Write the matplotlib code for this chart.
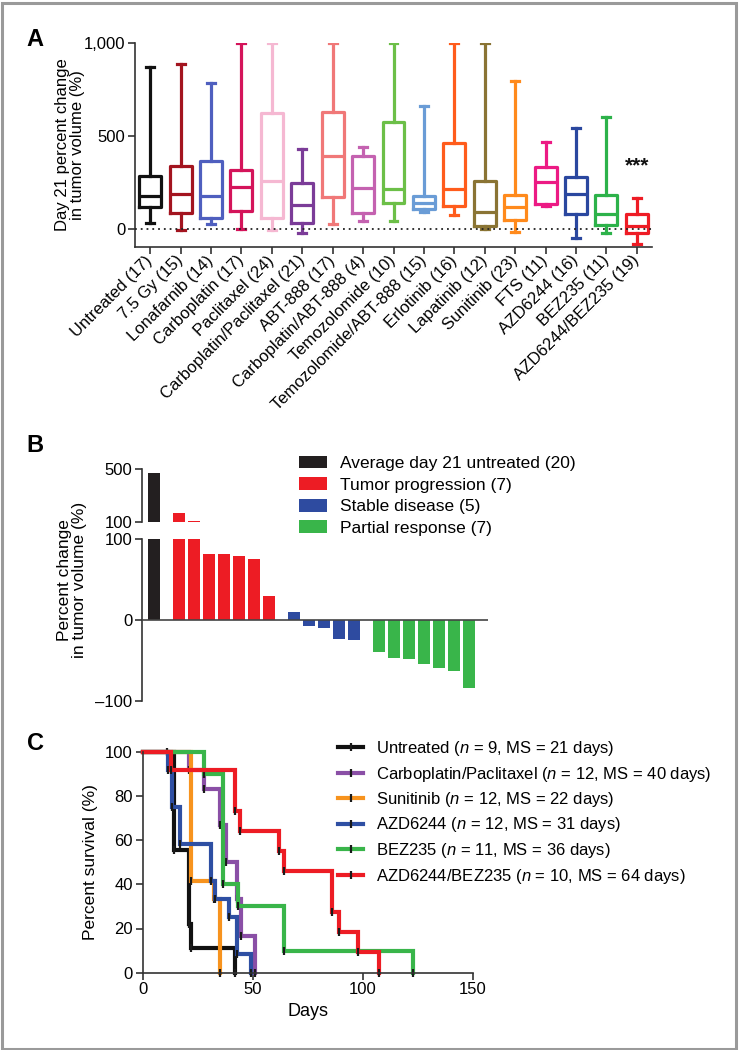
import numpy as np
import matplotlib
matplotlib.use("Agg")
import matplotlib.pyplot as plt
from matplotlib.patches import Patch, Rectangle
from matplotlib.lines import Line2D

plt.rcParams['font.family'] = ['Liberation Sans', 'DejaVu Sans']
plt.rcParams['mathtext.fontset'] = 'custom'
plt.rcParams['mathtext.it'] = 'Liberation Sans:italic'
plt.rcParams['mathtext.rm'] = 'Liberation Sans'

# ---------------- Panel A data ----------------
a_labels = ["Untreated (17)", "7.5 Gy (15)", "Lonafarnib (14)", "Carboplatin (17)",
            "Paclitaxel (24)", "Carboplatin/Paclitaxel (21)", "ABT-888 (17)",
            "Carboplatin/ABT-888 (4)", "Temozolomide (10)", "Temozolomide/ABT-888 (15)",
            "Erlotinib (16)", "Lapatinib (12)", "Sunitinib (23)", "FTS (11)",
            "AZD6244 (16)", "BEZ235 (11)", "AZD6244/BEZ235 (19)"]
a_whislo = [34, -5, 25, 0, -5, -23, 29, 43, 43, 93, 75, -2, -16, 124, -47, -23, -83]
a_q1 = [118, 84, 61, 95, 61, 34, 171, 84, 142, 108, 126, 18, 50, 135, 79, 20, -23]
a_med = [178, 190, 178, 228, 260, 129, 393, 219, 215, 140, 214, 92, 117, 251, 187, 81, 18]
a_q3 = [284, 338, 366, 318, 625, 246, 630, 390, 575, 176, 461, 259, 183, 332, 278, 183, 81]
a_whishi = [869, 885, 785, 1000, 1000, 431, 1000, 442, 1000, 662, 1000, 1000, 794, 469, 544, 600, 165]
a_colors = ["#111111", "#a3141f", "#4f5fbf", "#d4145a", "#f5b8d2", "#7b3c98", "#f07878",
            "#c462b0", "#6cbf48", "#6a9cd6", "#ff5c1c", "#8a7434", "#ff8a1c", "#ec1a84",
            "#2a479f", "#2db24a", "#ee1c25"]
a_yticks = [0, 500, 1000]
a_yticklabels = ["0", "500", "1,000"]

# ---------------- Panel B data ----------------
b_groups = ["Average day 21 untreated (20)", "Tumor progression (7)",
            "Stable disease (5)", "Partial response (7)"]
b_colors = ["#231f20", "#ed1c24", "#2e4ba0", "#39b54a"]
b_untreated = [470]
b_progression = [173, 110, 81, 81, 79, 75, 30]
b_stable = [9.5, -7, -9.5, -23.5, -25]
b_partial = [-40, -46.5, -48, -54, -59, -63, -83.5]

# ---------------- Panel C data ----------------
c_labels = ["Untreated ($n$ = 9, MS = 21 days)",
            "Carboplatin/Paclitaxel ($n$ = 12, MS = 40 days)",
            "Sunitinib ($n$ = 12, MS = 22 days)",
            "AZD6244 ($n$ = 12, MS = 31 days)",
            "BEZ235 ($n$ = 11, MS = 36 days)",
            "AZD6244/BEZ235 ($n$ = 10, MS = 64 days)"]
c_colors = ["#111111", "#8a4fa6", "#f7931e", "#2e4fa3", "#39b54a", "#ed1c24"]
c_times = [
    [11, 14, 21, 22, 42],
    [21, 28, 35, 38, 43, 44.5, 51],
    [22, 32.5, 35],
    [11.7, 13.2, 17, 31, 33, 39, 43, 49],
    [28, 36.5, 43.5, 64, 123],
    [13, 42, 44, 62, 64, 86, 89, 98, 107.5],
]
c_surv = [
    [100, 55.6, 22.2, 11.1, 0],
    [91.7, 83.3, 66.7, 50, 33.3, 16.7, 0],
    [41.7, 33.3, 0],
    [91.7, 75, 58.3, 41.7, 33.3, 25, 8.3, 0],
    [90, 40, 30, 10, 0],
    [91.7, 73.3, 64.2, 55, 45.8, 27.5, 18.3, 9.2, 0],
]

W, H = 739, 1050
fig = plt.figure(figsize=(W / 100, H / 100), dpi=100)


def rect(l, t, r, b):
    return [l / W, 1 - b / H, (r - l) / W, (b - t) / H]


spine_c = "#333333"
FS_TICK = 12
FS_LAB = 12.5
FS_LEG = 12.5


def style_axes(ax):
    for s in ["top", "right"]:
        ax.spines[s].set_visible(False)
    for s in ["left", "bottom"]:
        ax.spines[s].set_color(spine_c)
        ax.spines[s].set_linewidth(1.2)
    ax.tick_params(direction="out", length=5, width=1.2, color=spine_c,
                   labelsize=FS_TICK, pad=2)


# ---------------- Panel A ----------------
axA = fig.add_axes(rect(135, 43, 652, 247))
style_axes(axA)
stats = []
for i in range(len(a_labels)):
    stats.append(dict(whislo=a_whislo[i], q1=a_q1[i], med=a_med[i], q3=a_q3[i],
                      whishi=a_whishi[i], label=a_labels[i]))
pos = np.arange(len(a_labels))
art = axA.bxp(stats, positions=pos, widths=0.72, capwidths=0.26, showfliers=False,
              patch_artist=False)
for i, c in enumerate(a_colors):
    for key in ["boxes", "medians"]:
        art[key][i].set_color(c)
        art[key][i].set_linewidth(2.3)
    for key in ["whiskers", "caps"]:
        for j in (2 * i, 2 * i + 1):
            art[key][j].set_color(c)
            art[key][j].set_linewidth(2.3)
axA.axhline(0, color="#222222", lw=1.3, ls=(0, (1, 2.2)), zorder=5)
axA.set_xlim(-0.5, len(a_labels) - 0.5)
axA.set_ylim(-97, 1000)
axA.set_yticks(a_yticks)
axA.set_yticklabels(a_yticklabels)
axA.set_xticks(pos)
axA.set_xticklabels(a_labels, rotation=45, ha="right", va="center",
                    rotation_mode="anchor", fontsize=FS_TICK)
axA.tick_params(axis="x", pad=3)
axA.text(16, 341, "***", ha="center", va="center", fontsize=15, fontweight="bold",
         color="#111111")
fig.text(70 / W, 1 - 145 / H, "Day 21 percent change\nin tumor volume (%)",
         rotation=90, ha="center", va="center", fontsize=12, linespacing=1.0)
fig.text(35 / W, 1 - 40 / H, "A", fontsize=17, fontweight="bold", ha="center", va="center")

# ---------------- Panel B ----------------
b_values = [b_untreated, b_progression, b_stable, b_partial]
b_pos = []
b_val = []
b_col = []
x = 0.0
for g, vals in enumerate(b_values):
    if g > 0:
        x += 0.667
    for v in vals:
        b_pos.append(x)
        b_val.append(v)
        b_col.append(b_colors[g])
        x += 1.0
b_pos = np.array(b_pos)

xl = (-0.8, 22.27)
axBlo = fig.add_axes(rect(142, 539, 488, 701))
axBhi = fig.add_axes(rect(142, 469.3, 488, 522.3))
for ax in (axBlo, axBhi):
    style_axes(ax)
    ax.spines["bottom"].set_visible(False)
    ax.set_xticks([])
    ax.bar(b_pos, b_val, width=0.8, color=b_col, zorder=2)
    ax.set_xlim(*xl)
axBlo.set_ylim(-100, 100)
axBlo.set_yticks([-100, 0, 100])
axBlo.set_yticklabels(["\u2013100", "0", "100"])
axBlo.axhline(0, color="#444444", lw=1.2, zorder=3)
axBhi.set_ylim(100, 500)
axBhi.set_yticks([100, 500])
axBhi.set_yticklabels(["100", "500"])
fig.text(72 / W, 1 - 580 / H, "Percent change\nin tumor volume (%)",
         rotation=90, ha="center", va="center", fontsize=FS_LAB, linespacing=1.0)
fig.text(35 / W, 1 - 445 / H, "B", fontsize=17, fontweight="bold", ha="center", va="center")
handlesB = [Patch(facecolor=c, edgecolor="none") for c in b_colors]
fig.legend(handlesB, b_groups, loc="upper left", bbox_to_anchor=(299 / W, 1 - 455.5 / H),
           frameon=False, fontsize=FS_LEG, handlelength=1.6, handleheight=0.75,
           handletextpad=0.75, labelspacing=0.36, borderpad=0, borderaxespad=0)

# ---------------- Panel C ----------------
axC = fig.add_axes(rect(142.7, 751.7, 472.7, 972.7))
style_axes(axC)
for t, s, c in zip(c_times, c_surv, c_colors):
    xs = [0] + list(t)
    ys = [100] + list(s)
    axC.plot(xs, ys, drawstyle="steps-post", color=c, lw=3, clip_on=False,
             solid_joinstyle="miter")
    axC.plot(t, s, ls="none", marker="|", ms=6, mew=1.6, color="#1a1a1a", clip_on=False)
axC.set_xlim(0, 150)
axC.set_ylim(0, 100)
axC.set_xticks([0, 50, 100, 150])
axC.set_yticks([0, 20, 40, 60, 80, 100])
axC.set_xlabel("Days", fontsize=13, labelpad=4)
axC.set_ylabel("Percent survival (%)", fontsize=FS_LAB, labelpad=5)
fig.text(36 / W, 1 - 743 / H, "C", fontsize=17, fontweight="bold", ha="center", va="center")
handlesC = [Line2D([], [], color=c, lw=3, marker="|", ms=6, mew=1.6, mec="#1a1a1a")
            for c in c_colors]
fig.legend(handlesC, c_labels, loc="upper left", bbox_to_anchor=(338 / W, 1 - 739 / H),
           frameon=False, fontsize=12, handlelength=1.5, handletextpad=0.8,
           labelspacing=0.39, borderpad=0, borderaxespad=0, numpoints=1)

# Figure border
fig.patches.append(Rectangle((1.5 / W, 1.5 / H), (736 - 1.5) / W, (1047.5 - 1.5) / H,
                             transform=fig.transFigure, fill=False, edgecolor="#9a9a9a",
                             lw=2.2))

fig.savefig("out.png", dpi=100)
